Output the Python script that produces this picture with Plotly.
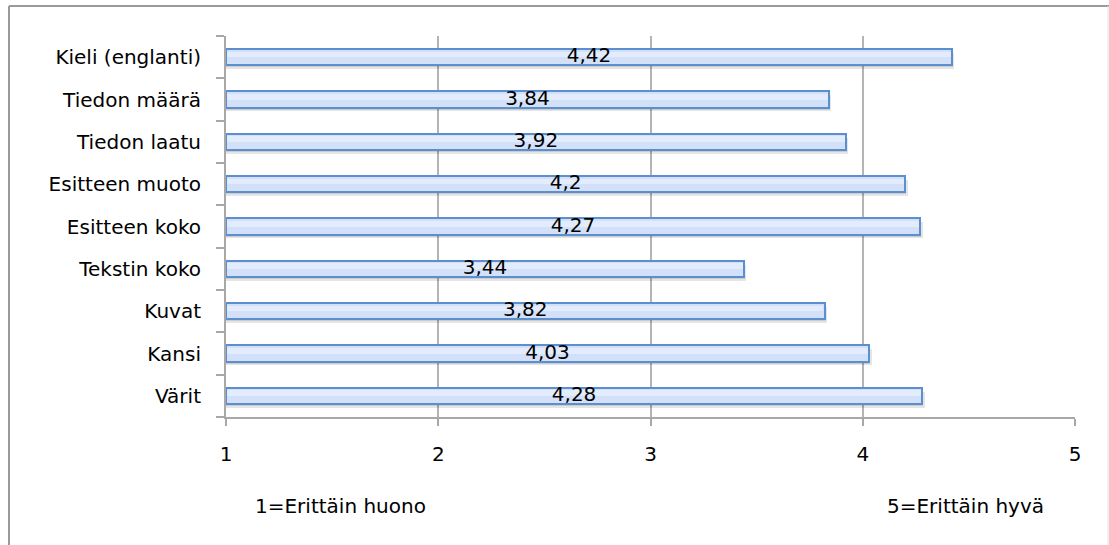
import plotly.graph_objects as go

# Ratings, listed from bottom row to top row
categories = ["Värit", "Kansi", "Kuvat", "Tekstin koko", "Esitteen koko",
              "Esitteen muoto", "Tiedon laatu", "Tiedon määrä", "Kieli (englanti)"]
scores = [4.28, 4.03, 3.82, 3.44, 4.27, 4.2, 3.92, 3.84, 4.42]
x_ticks = [1, 2, 3, 4, 5]
scale_low = "1=Erittäin huono"
scale_high = "5=Erittäin hyvä"

FONT = "DejaVu Sans"
FS = 20
W, H = 1109, 545
L, R, T, B = 226, 34, 36, 128
BASE = 1
BAR_W = 0.38

lengths = [s - BASE for s in scores]
labels = [f"{s:g}".replace(".", ",") for s in scores]
mids = [BASE + l / 2 for l in lengths]

fig = go.Figure()

# soft drop shadow under each bar
fig.add_trace(go.Bar(
    y=categories, x=[l + 0.012 for l in lengths], base=BASE, orientation="h",
    width=BAR_W, offset=-BAR_W / 2 - 0.09,
    marker=dict(color="rgba(0,0,0,0.10)", line=dict(width=0)),
    hoverinfo="skip", showlegend=False,
))
fig.add_trace(go.Bar(
    y=categories, x=[l + 0.006 for l in lengths], base=BASE, orientation="h",
    width=BAR_W, offset=-BAR_W / 2 - 0.05,
    marker=dict(color="rgba(0,0,0,0.10)", line=dict(width=0)),
    hoverinfo="skip", showlegend=False,
))

# main bars
fig.add_trace(go.Bar(
    y=categories, x=lengths, base=BASE, orientation="h",
    width=BAR_W,
    marker=dict(color="#d2e1f9", line=dict(color="#5b8fcf", width=2)),
    showlegend=False,
))
# lighter band on the upper half of each bar
fig.add_trace(go.Bar(
    y=categories, x=[l - 0.01 for l in lengths], base=BASE + 0.005, orientation="h",
    width=BAR_W * 0.35, offset=BAR_W * 0.0,
    marker=dict(color="#e2ecfc", line=dict(width=0)),
    hoverinfo="skip", showlegend=False,
))

# value labels centred in the bars
fig.add_trace(go.Scatter(
    y=categories, x=mids, mode="text", text=labels,
    textfont=dict(family=FONT, size=FS, color="#000000"),
    textposition="middle center", hoverinfo="skip", showlegend=False,
))

fig.update_layout(
    width=W, height=H,
    margin=dict(l=L, r=R, t=T, b=B, pad=0),
    paper_bgcolor="white", plot_bgcolor="white",
    barmode="overlay", bargap=0,
    font=dict(family=FONT, size=FS, color="#000000"),
    xaxis=dict(
        range=[1, 5], tickvals=x_ticks, ticktext=[str(v) for v in x_ticks],
        showgrid=True, gridcolor="#b4b4b4", gridwidth=1.5,
        showline=True, linecolor="#a8a8a8", linewidth=2,
        ticks="outside", ticklen=7, tickcolor="#a8a8a8", tickwidth=2,
        ticklabelstandoff=11, zeroline=False, fixedrange=True,
    ),
    yaxis=dict(
        categoryorder="array", categoryarray=categories,
        showgrid=False, showline=True, linecolor="#a8a8a8", linewidth=2,
        ticks="outside", ticklen=8, tickcolor="#a8a8a8", tickwidth=2,
        tickson="boundaries", ticklabelstandoff=19, fixedrange=True,
    ),
    annotations=[
        dict(text=scale_low, xref="paper", yref="paper",
             x=(253 - L) / (W - L - R), y=-(506 - (H - B)) / (H - T - B),
             xanchor="left", yanchor="middle", showarrow=False,
             font=dict(family=FONT, size=FS)),
        dict(text=scale_high, xref="paper", yref="paper",
             x=(1046 - L) / (W - L - R), y=-(506 - (H - B)) / (H - T - B),
             xanchor="right", yanchor="middle", showarrow=False,
             font=dict(family=FONT, size=FS)),
    ],
)

# outer frame
pw, ph = W - L - R, H - T - B
def px(x):
    return (x - L) / pw
def py(y):
    return (H - B - y) / ph
fig.add_shape(type="line", xref="paper", yref="paper",
              x0=px(9), x1=px(9), y0=py(6), y1=py(560),
              line=dict(color="#9a9a9a", width=2))
fig.add_shape(type="line", xref="paper", yref="paper",
              x0=px(9), x1=px(1109), y0=py(6), y1=py(6),
              line=dict(color="#9a9a9a", width=2))
fig.add_shape(type="line", xref="paper", yref="paper",
              x0=px(1108), x1=px(1108), y0=py(6), y1=py(560),
              line=dict(color="#e2e2e2", width=1))

fig.write_html("out.html")
